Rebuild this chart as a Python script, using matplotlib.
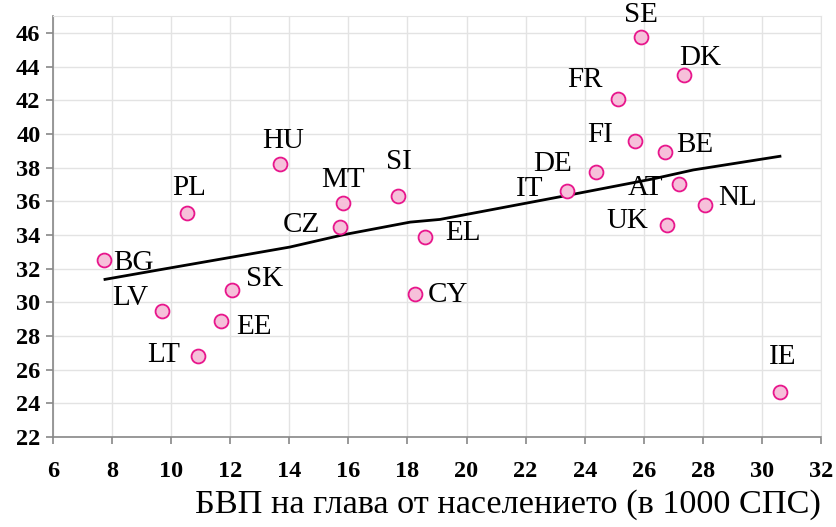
import matplotlib.pyplot as plt

# country codes and values
countries = ["BG", "PL", "HU", "MT", "CZ", "SI", "EL", "CY", "SK", "LV", "EE", "LT",
             "IT", "DE", "FR", "SE", "FI", "BE", "DK", "AT", "NL", "UK", "IE"]
gdp = [7.73, 10.54, 13.68, 15.82, 15.72, 17.68, 18.59, 18.25, 12.06, 9.69, 11.69, 10.91,
       23.40, 24.38, 25.13, 25.90, 25.70, 26.72, 27.36, 27.19, 28.07, 26.79, 30.61]
vals = [32.5, 35.3, 38.2, 35.9, 34.5, 36.3, 33.85, 30.5, 30.7, 29.5, 28.9, 26.8,
        36.6, 37.75, 42.1, 45.75, 39.55, 38.9, 43.5, 37.05, 35.8, 34.6, 24.65]

# trend line
trend_x = [7.76, 9.51, 14.02, 15.83, 18.09, 19.1, 23.39, 26.32, 27.68, 30.61]
trend_y = [31.36, 31.9, 33.28, 34.01, 34.76, 34.92, 36.34, 37.33, 37.86, 38.67]

# label offsets in pixels (dx, dy, alignment)
offs = {
    "BG": (9, -3, "left"), "PL": (2, 25, "center"), "HU": (3, 23, "center"),
    "MT": (0, 23, "center"), "CZ": (-20, 2, "right"), "SI": (1, 34, "center"),
    "EL": (20, 4, "left"), "CY": (13, -1, "left"), "SK": (14, 11, "left"),
    "LV": (-14, 13, "right"), "EE": (15, -6, "left"), "LT": (-18, 1, "right"),
    "IT": (-24, 2, "right"), "DE": (-24, 8, "right"), "FR": (-15, 19, "right"),
    "SE": (0, 22, "center"), "FI": (-22, 6, "right"), "BE": (11, 7, "left"),
    "DK": (-5, 17, "left"), "AT": (-16, -4, "right"), "NL": (13, 7, "left"),
    "UK": (-19, 4, "right"), "IE": (3, 35, "center"),
}

plt.rcParams["font.family"] = ["Liberation Serif", "DejaVu Serif"]

fig = plt.figure(figsize=(8.36, 5.27), dpi=100)
ax = fig.add_axes([53 / 836, 1 - 437 / 527, 768 / 836, 421 / 527])

ax.set_xlim(6, 32)
ax.set_ylim(22, 47)
ax.set_xticks(range(6, 33, 2))
ax.set_yticks(range(22, 47, 2))
ax.grid(True, color="#e3e3e3", linewidth=1)
ax.set_axisbelow(True)

for s in ["top", "right"]:
    ax.spines[s].set_color("#e3e3e3")
for s in ["left", "bottom"]:
    ax.spines[s].set_color("#888888")
    ax.spines[s].set_linewidth(1.2)

ax.tick_params(axis="both", direction="out", length=5, color="#888888", width=1.2)
ax.tick_params(axis="x", pad=12)
ax.tick_params(axis="y", pad=4)
for lab in ax.get_xticklabels() + ax.get_yticklabels():
    lab.set_fontweight("bold")
    lab.set_fontsize(17.5)

ax.plot(trend_x, trend_y, color="black", linewidth=2, zorder=2)
ax.scatter(gdp, vals, s=100, facecolor="#f6c0da", edgecolor="#e8168c",
           linewidth=1.3, zorder=3)

for c, x, y in zip(countries, gdp, vals):
    dx, dy, ha = offs[c]
    ax.annotate(c, (x, y), xytext=(dx, dy), textcoords="offset pixels",
                ha=ha, va="center", fontsize=21)

fig.text(821 / 836, 0.042, "БВП на глава от населението (в 1000 СПС)",
         ha="right", va="center", fontsize=24.7)

fig.savefig("out.png", dpi=100)
